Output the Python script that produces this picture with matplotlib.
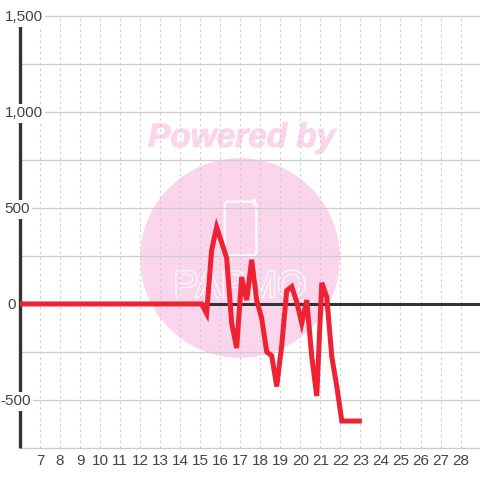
import matplotlib.patheffects as pe
import matplotlib.pyplot as plt
from matplotlib.patches import Circle, FancyBboxPatch, Rectangle

hours = [6.0, 15.07, 15.32, 15.57, 15.82, 16.07, 16.32, 16.57, 16.82, 17.07, 17.32, 17.57, 17.82,
         18.07, 18.32, 18.57, 18.82, 19.07, 19.32, 19.57, 19.82, 20.07, 20.32, 20.57, 20.82,
         21.07, 21.32, 21.57, 21.82, 22.07, 23.07]
values = [0, 0, -50, 280, 400, 320, 240, -100, -230, 140, 20, 230, 20,
          -75, -250, -270, -430, -215, 70, 90, 10, -100, 20, -275, -480,
          110, 35, -275, -430, -610, -610]

hour_ticks = list(range(7, 29))
value_ticks = [-500, 0, 500, 1000, 1500]
value_labels = ["-500", "0", "500", "1,000", "1,500"]
grid_values = [-750, -500, -250, 250, 500, 750, 1000, 1250, 1500]

plt.rcParams["font.family"] = ["Liberation Sans", "DejaVu Sans"]

PINK = "#fbd5ec"
GRID = "#cccccc"
DARK = "#333333"
RED = "#ee2233"
TEXT = "#444444"

# right edge of each y label, as a fraction of the figure width
label_right = [31 / 480, 16 / 480, 30 / 480, 43 / 480, 43 / 480]

fig = plt.figure(figsize=(4.8, 4.8), dpi=100)
ax = fig.add_axes([0, 0, 1, 1])
ax.set_xlim(5.003, 28.97)
ax.set_ylim(-917, 1583)
for spine in ax.spines.values():
    spine.set_visible(False)

# watermark sits under the grid
ax.add_patch(Circle((0.5, 0.4625), 0.208, transform=ax.transAxes, color=PINK, lw=0, zorder=0))
ax.text(0.504, 0.712, "Powered by", transform=ax.transAxes, ha="center", va="center",
        fontsize=24, fontweight="bold", fontstyle="italic", color=PINK, zorder=0,
        path_effects=[pe.withStroke(linewidth=0.8, foreground=PINK)])
ax.add_patch(FancyBboxPatch((0.468, 0.468), 0.066, 0.112, boxstyle="round,pad=0,rounding_size=0.008",
                            transform=ax.transAxes, fc="none", ec="white", lw=1.5, zorder=0.5))
ax.add_patch(Rectangle((0.528, 0.57), 0.006, 0.016, transform=ax.transAxes, color="white", lw=0, zorder=0.5))
ax.text(0.5, 0.402, "PAPMO", transform=ax.transAxes, ha="center", va="center",
        fontsize=27, color=PINK, zorder=0.5,
        path_effects=[pe.withStroke(linewidth=1.6, foreground="white")])

ax.vlines(hour_ticks, -750, 1500, color=GRID, lw=0.8, linestyles=(0, (2, 3)), zorder=1)
ax.hlines(grid_values, 6, 29, color=GRID, lw=0.9, zorder=1)
ax.hlines(0, 6, 29, color=DARK, lw=2.2, zorder=1.5)
ax.vlines(6, -750, 1460, color=DARK, lw=2.4, zorder=1.5)

ax.plot(hours, values, color=RED, lw=3.6, solid_joinstyle="miter", solid_capstyle="butt", zorder=3)

ax.set_xticks(hour_ticks)
ax.set_yticks([])
ax.tick_params(axis="x", length=0, pad=-18.5, labelsize=11, labelcolor=TEXT)

for value, label, right in zip(value_ticks, value_labels, label_right):
    ax.text(right, value, label, transform=ax.get_yaxis_transform(), ha="right", va="center_baseline",
            fontsize=11, color=TEXT, zorder=2.5,
            bbox=dict(facecolor="white", edgecolor="none", pad=1.5))

fig.savefig("out.png", dpi=100)
